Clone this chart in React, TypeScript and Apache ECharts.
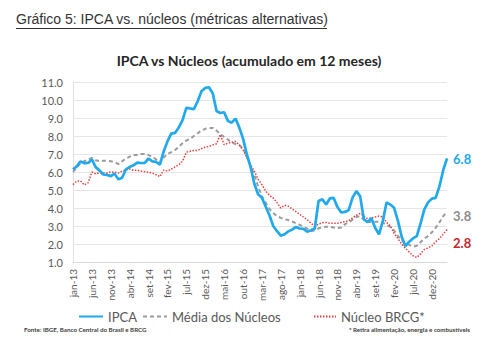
import React, { useEffect, useRef } from 'react';
import * as echarts from 'echarts';

const monthNames = ['jan', 'fev', 'mar', 'abr', 'mai', 'jun', 'jul', 'ago', 'set', 'out', 'nov', 'dez'];
const yearSuffixes = ['13', '14', '15', '16', '17', '18', '19', '20', '21'];
const categories: string[] = [];
yearSuffixes.forEach((y) => monthNames.forEach((m) => categories.push(`${m}-${y}`)));
const months = categories.slice(0, 100); // jan-13 .. abr-21

const ipca = [
  6.15, 6.31, 6.59, 6.49, 6.5, 6.7, 6.27, 6.09, 5.86, 5.84, 5.77, 5.91,
  5.59, 5.68, 6.15, 6.28, 6.37, 6.52, 6.5, 6.51, 6.75, 6.59, 6.56, 6.41,
  7.14, 7.7, 8.13, 8.17, 8.47, 8.89, 9.56, 9.53, 9.49, 9.93, 10.48, 10.67,
  10.71, 10.36, 9.39, 9.28, 9.32, 8.84, 8.74, 8.97, 8.48, 7.87, 6.99, 6.29,
  5.35, 4.76, 4.57, 4.08, 3.6, 3.0, 2.71, 2.46, 2.54, 2.7, 2.8, 2.95,
  2.86, 2.84, 2.68, 2.76, 2.86, 4.39, 4.48, 4.19, 4.53, 4.56, 4.05, 3.75,
  3.78, 3.89, 4.58, 4.94, 4.66, 3.37, 3.22, 3.43, 2.89, 2.54, 3.27, 4.31,
  4.19, 4.01, 3.3, 2.4, 1.88, 2.13, 2.31, 2.44, 3.14, 3.92, 4.31, 4.52,
  4.56, 5.2, 6.1, 6.76,
];

const mediaNucleos = [
  6.0, 6.25, 6.5, 6.6, 6.7, 6.78, 6.65, 6.6, 6.62, 6.63, 6.6, 6.55,
  6.44, 6.6, 6.75, 6.85, 6.95, 6.95, 7.0, 7.0, 6.94, 6.85, 6.7, 6.5,
  6.8, 7.0, 7.1, 7.22, 7.4, 7.6, 7.74, 7.85, 8.0, 8.15, 8.3, 8.4,
  8.45, 8.45, 8.3, 8.1, 7.95, 7.8, 7.65, 7.55, 7.5, 7.3, 6.95, 6.3,
  5.85, 5.2, 4.65, 4.3, 3.95, 3.72, 3.55, 3.45, 3.38, 3.33, 3.25, 3.15,
  3.06, 2.95, 2.85, 2.72, 2.75, 2.87, 2.92, 2.96, 2.96, 2.92, 2.88, 2.92,
  3.1, 3.2, 3.35, 3.5, 3.55, 3.35, 3.24, 3.22, 3.24, 3.24, 3.2, 3.06,
  2.95, 2.75, 2.45, 2.2, 2.05, 1.95, 1.85, 1.9, 2.1, 2.3, 2.45, 2.65,
  2.9, 3.2, 3.55, 3.8,
];

const nucleoBrcg = [
  5.3, 5.5, 5.5, 5.28, 5.4, 6.0, 5.9, 5.95, 5.95, 5.95, 6.0, 6.0,
  5.94, 6.05, 6.1, 6.17, 6.1, 6.1, 6.05, 6.02, 5.98, 5.94, 5.85, 5.74,
  6.11, 6.05, 6.15, 6.28, 6.4, 6.6, 7.1, 7.15, 7.2, 7.2, 7.3, 7.38,
  7.42, 7.5, 7.57, 8.08, 7.52, 7.6, 7.65, 7.7, 7.5, 7.24, 6.8, 6.4,
  6.05, 5.6, 5.3, 4.95, 4.7, 4.55, 4.3, 4.0, 4.15, 4.1, 3.95, 3.8,
  3.65, 3.5, 3.35, 3.15, 3.0, 3.1, 3.18, 3.2, 3.15, 3.15, 3.15, 3.2,
  3.24, 3.3, 3.45, 3.6, 3.7, 3.55, 3.4, 3.45, 3.5, 3.55, 3.5, 3.2,
  3.0, 2.6, 2.3, 2.0, 1.76, 1.55, 1.35, 1.25, 1.45, 1.7, 1.78, 1.9,
  2.13, 2.3, 2.55, 2.8,
];

const BLUE = '#21a9ec';
const GRAY = '#9b9b9b';
const RED = '#e2433d';
const FONT = 'Lato';

export default function App() {
  const ref = useRef<HTMLDivElement>(null);
  useEffect(() => {
    if (!ref.current) return;
    const chart = echarts.init(ref.current, null, { renderer: 'svg' });
    const legendText = { fontSize: 13, color: '#595959', fontFamily: FONT };
    const legendCommon = {
      top: 305,
      itemWidth: 24,
      itemHeight: 10,
      itemGap: 4,
      textStyle: legendText,
      itemStyle: { opacity: 0 },
    };
    chart.setOption({
      animation: false,
      backgroundColor: '#ffffff',
      textStyle: { fontFamily: FONT },
      title: {
        text: 'IPCA vs Núcleos (acumulado em 12 meses)',
        left: 'center',
        top: 48,
        textStyle: { fontSize: 14, fontWeight: 'bold', color: '#262626', fontFamily: FONT },
      },
      grid: { left: 73, right: 51, top: 82, bottom: 77 },
      xAxis: {
        type: 'category',
        data: months,
        boundaryGap: false,
        axisTick: { show: false },
        axisLine: { lineStyle: { color: '#d9d9d9' } },
        axisLabel: { interval: 4, rotate: 90, fontSize: 10, color: '#595959', margin: 7, fontFamily: FONT },
        splitLine: { show: false },
      },
      yAxis: {
        type: 'value',
        min: 1,
        max: 11,
        interval: 1,
        axisLabel: {
          formatter: (v: number) => v.toFixed(1),
          fontSize: 11,
          color: '#595959',
          margin: 10,
          fontFamily: FONT,
        },
        axisLine: { show: true, lineStyle: { color: '#e3e3e3' } },
        axisTick: { show: false },
        splitLine: { lineStyle: { color: '#e6e6e6' } },
      },
      legend: [
        { ...legendCommon, data: ['IPCA'], left: 73 },
        { ...legendCommon, data: ['Média dos Núcleos'], left: 137 },
        { ...legendCommon, data: ['Núcleo BRCG*'], left: 308, itemWidth: 22 },
      ],
      series: [
        {
          name: 'Média dos Núcleos',
          type: 'line',
          data: mediaNucleos,
          symbol: 'none',
          lineStyle: { color: GRAY, width: 2, type: [4, 3] },
          itemStyle: { color: GRAY },
          endLabel: {
            show: true,
            formatter: (p: any) => Number(p.value).toFixed(1),
            color: '#8c8c8c',
            fontWeight: 'bold',
            fontSize: 13,
            distance: 6,
            offset: [0, 4],
            fontFamily: FONT,
          },
          z: 2,
        },
        {
          name: 'Núcleo BRCG*',
          type: 'line',
          data: nucleoBrcg,
          symbol: 'none',
          lineStyle: { color: RED, width: 1.5, type: [1.5, 1.5] },
          itemStyle: { color: RED },
          endLabel: {
            show: true,
            formatter: (p: any) => Number(p.value).toFixed(1),
            color: '#c1272d',
            fontWeight: 'bold',
            fontSize: 13,
            distance: 6,
            offset: [0, 13],
            fontFamily: FONT,
          },
          z: 2,
        },
        {
          name: 'IPCA',
          type: 'line',
          data: ipca,
          symbol: 'none',
          lineStyle: { color: BLUE, width: 2.7 },
          itemStyle: { color: BLUE },
          endLabel: {
            show: true,
            formatter: (p: any) => Number(p.value).toFixed(1),
            color: BLUE,
            fontWeight: 'bold',
            fontSize: 13,
            distance: 6,
            offset: [0, 1],
            fontFamily: FONT,
          },
          z: 3,
        },
      ],
      graphic: [
        {
          type: 'text',
          left: 16,
          top: 12,
          style: {
            text: 'Gráfico 5: IPCA vs. núcleos (métricas alternativas)',
            fontSize: 14,
            fontFamily: 'Liberation Sans',
            fill: '#333333',
          },
        },
        {
          type: 'line',
          shape: { x1: 16, y1: 28.5, x2: 327, y2: 28.5 },
          style: { stroke: '#333333', lineWidth: 1 },
        },
        {
          type: 'text',
          left: 24,
          top: 326,
          style: {
            text: 'Fonte: IBGE, Banco Central do Brasil e BRCG',
            fontSize: 6.2,
            fontWeight: 'bold',
            fontFamily: FONT,
            fill: '#404040',
          },
        },
        {
          type: 'text',
          right: 28,
          top: 326,
          style: {
            text: '* Retira alimentação, energia e combustíveis',
            fontSize: 6.2,
            fontWeight: 'bold',
            fontFamily: FONT,
            fill: '#404040',
          },
        },
      ],
    });
    return () => chart.dispose();
  }, []);
  return (
    <div
      ref={ref}
      style={{ position: 'absolute', left: 0, top: 0, width: 498, height: 339 }}
    />
  );
}
